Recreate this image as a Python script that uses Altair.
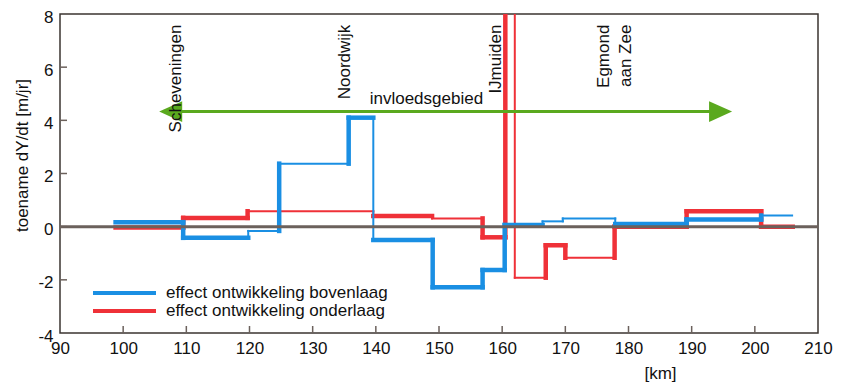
import altair as alt
import pandas as pd

FONT = "Liberation Sans"

# ---------------- data ----------------
km_ticks = [90, 100, 110, 120, 130, 140, 150, 160, 170, 180, 190, 200, 210]
dy_ticks = [-4, -2, 0, 2, 4, 6, 8]

series_names = ["effect ontwikkeling bovenlaag", "effect ontwikkeling onderlaag"]
series_colors = ["#1a8fe3", "#ef3138"]

# bovenlaag: step edges [km] and step values [m/jr]
boven_km = [98.8, 109.5, 119.8, 124.7, 135.7, 139.6, 149.0, 156.9, 160.4,
            166.4, 169.6, 177.9, 189.2, 201.0, 205.9]
boven_dy = [0.17, -0.42, -0.16, 2.37, 4.1, -0.5, -2.28, -1.63, 0.06,
            0.2, 0.31, 0.1, 0.27, 0.42]
# emphasis flags (1 = drawn heavy) for each step and for each jump between steps
boven_step_em = [1, 1, 0, 0, 1, 1, 1, 1, 1, 0, 0, 1, 1, 0]
boven_jump_em = [1, 0, 1, 1, 0, 1, 1, 1, 0, 0, 0, 1, 1]

# onderlaag
onder_km = [98.8, 109.5, 119.7, 139.6, 148.9, 156.9, 160.5, 162.0, 166.9,
            170.0, 177.8, 189.2, 201.0, 206.0]
onder_dy = [-0.03, 0.33, 0.58, 0.4, 0.31, -0.4, 12.0, -1.92, -0.7,
            -1.17, 0.0, 0.58, 0.0]
onder_step_em = [1, 1, 0, 1, 0, 1, 1, 0, 1, 0, 1, 1, 1]
onder_jump_em = [1, 1, 0, 0, 1, 1, 0, 1, 1, 1, 1, 1]

place_names = ["Scheveningen", "Noordwijk", "IJmuiden", "Egmond\naan Zee"]
place_km = [108.3, 135.1, 159.1, 176.1]
place_level = 7.6

zone_label = "invloedsgebied"
zone_km = [105.7, 196.4]
zone_level = 4.33
zone_label_km = 148.0
zone_label_level = 4.63

# ---------------- build step segments ----------------
def segments(name, xs, ys, step_em, jump_em):
    rows = []
    for i in range(len(ys)):
        rows.append(dict(serie=name, x=xs[i], x2=xs[i + 1], y=ys[i], y2=ys[i],
                         nadruk="dik" if step_em[i] else "dun"))
    for i in range(len(ys) - 1):
        rows.append(dict(serie=name, x=xs[i + 1], x2=xs[i + 1], y=ys[i], y2=ys[i + 1],
                         nadruk="dik" if jump_em[i] else "dun"))
    return rows

seg_rows = (segments(series_names[1], onder_km, onder_dy, onder_step_em, onder_jump_em)
            + segments(series_names[0], boven_km, boven_dy, boven_step_em, boven_jump_em))
seg_df = pd.DataFrame(seg_rows)

W, H = 758, 319
AXIS_COL = "#6b615c"
GREEN = "#5aa91e"
TXT = "#111111"

xscale = alt.Scale(domain=[90, 210], nice=False, zero=False)
yscale = alt.Scale(domain=[-4, 8], nice=False, zero=False)
color_scale = alt.Scale(domain=series_names, range=series_colors)

zero = alt.Chart(pd.DataFrame({"y": [0]})).mark_rule(
    color=AXIS_COL, strokeWidth=3
).encode(y=alt.Y("y:Q", scale=yscale))

xticks = alt.Chart(pd.DataFrame({"x": km_ticks[1:-1]})).mark_rule(
    color=AXIS_COL, strokeWidth=1.5
).encode(x=alt.X("x:Q", scale=xscale), y=alt.value(H), y2=alt.value(H - 7))

yticks = alt.Chart(pd.DataFrame({"y": dy_ticks[1:-1]})).mark_rule(
    color=AXIS_COL, strokeWidth=1.5
).encode(y=alt.Y("y:Q", scale=yscale), x=alt.value(0), x2=alt.value(7))

steps = alt.Chart(seg_df).mark_rule(clip=True, strokeCap="square").encode(
    x=alt.X("x:Q", scale=xscale,
            axis=alt.Axis(values=km_ticks, title="[km]", titleX=600, titleY=45,
                          titleAlign="center", titleBaseline="alphabetic",
                          labelPadding=7)),
    x2="x2:Q",
    y=alt.Y("y:Q", scale=yscale,
            axis=alt.Axis(values=dy_ticks, title="toename dY/dt [m/jr]", titleAngle=270,
                          titleX=-38, titleY=141, titleAlign="center",
                          titleBaseline="middle", labelPadding=7,
                          labelExpr="datum.value", labelBaseline="middle",
                          labelOffset=3)),
    y2="y2:Q",
    color=alt.Color("serie:N", scale=color_scale, legend=None),
    strokeWidth=alt.StrokeWidth("nadruk:N",
                                scale=alt.Scale(domain=["dik", "dun"], range=[4.5, 2.0]),
                                legend=None),
)

arrow_df = pd.DataFrame({"start": [zone_km[0]], "end": [zone_km[1]], "y": [zone_level]})
shaft = alt.Chart(arrow_df).transform_calculate(
    x="datum.start + 1", x2="datum.end - 1"
).mark_rule(color=GREEN, strokeWidth=3).encode(
    x=alt.X("x:Q", scale=xscale), x2="x2:Q",
    y=alt.Y("y:Q", scale=yscale))

head_l = alt.Chart(pd.DataFrame({"x": [zone_km[0]], "y": [zone_level]})).mark_point(
    shape="M2,-0.9L0,0L2,0.9Z", size=529, filled=True, color=GREEN, opacity=1, strokeWidth=0
).encode(x=alt.X("x:Q", scale=xscale), y=alt.Y("y:Q", scale=yscale))
head_r = alt.Chart(pd.DataFrame({"x": [zone_km[1]], "y": [zone_level]})).mark_point(
    shape="M-2,-0.9L0,0L-2,0.9Z", size=529, filled=True, color=GREEN, opacity=1, strokeWidth=0
).encode(x=alt.X("x:Q", scale=xscale), y=alt.Y("y:Q", scale=yscale))

zone_text = alt.Chart(pd.DataFrame({"t": [zone_label], "x": [zone_label_km],
                                    "y": [zone_label_level]})).mark_text(
    font=FONT, fontSize=17, color=TXT, align="center", baseline="alphabetic"
).encode(x=alt.X("x:Q", scale=xscale), y=alt.Y("y:Q", scale=yscale), text="t:N")

places = alt.Chart(pd.DataFrame({"naam": place_names, "x": place_km,
                                 "y": [place_level] * len(place_km)})).mark_text(
    font=FONT, fontSize=17, color=TXT, angle=270, align="right", baseline="middle",
    lineBreak="\n", lineHeight=22
).encode(x=alt.X("x:Q", scale=xscale), y=alt.Y("y:Q", scale=yscale), text="naam:N")

legend_layers = []
for i, name in enumerate(series_names):
    d = pd.DataFrame({"serie": [name]})
    legend_layers.append(alt.Chart(d).mark_rule(strokeWidth=4).encode(
        x=alt.value(33), x2=alt.value(96), y=alt.value(279 + 18 * i),
        color=alt.Color("serie:N", scale=color_scale, legend=None)))
    legend_layers.append(alt.Chart(d).mark_text(
        font=FONT, fontSize=17, color=TXT, align="left", baseline="alphabetic").encode(
        x=alt.value(106), y=alt.value(284 + 18 * i), text="serie:N"))

chart = alt.layer(
    steps, zero, xticks, yticks, shaft, head_l, head_r, zone_text, places, *legend_layers
).properties(
    width=W, height=H,
    padding={"left": 52, "top": 6, "right": 16, "bottom": 52},
    autosize=alt.AutoSizeParams(type="none"),
).configure_view(
    stroke="#3b3431", strokeWidth=1.5
).configure_axis(
    domain=False, ticks=False, grid=False,
    labelFont=FONT, labelFontSize=17, labelColor=TXT,
    titleFont=FONT, titleFontSize=17, titleFontWeight="normal", titleColor=TXT,
    labelFlush=False, labelOverlap=False,
)

chart.save("out.html", embed_options={"renderer": "svg", "actions": False})
